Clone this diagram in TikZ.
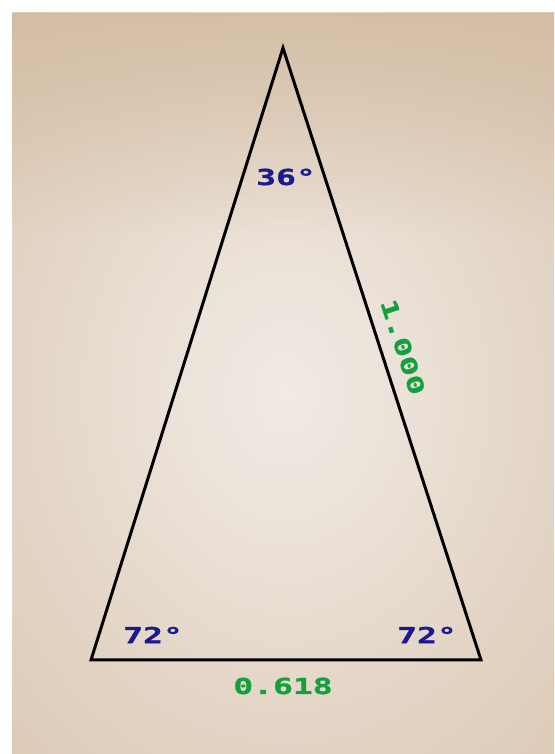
\documentclass[tikz,border=0pt]{standalone}
\usepackage{fontspec}
\usepackage{tikz}
\usetikzlibrary{fadings}
\newfontfamily\labelfont{DejaVu Sans Mono}[FakeStretch=1.5, FakeBold=1.2]
\definecolor{paperedge}{RGB}{220,202,182}
\definecolor{papermid}{RGB}{241,235,229}
\definecolor{papertop}{RGB}{210,186,160}
\definecolor{anglecol}{RGB}{26,26,142}
\definecolor{sidecol}{RGB}{20,160,62}
\tikzset{
  every node/.style={font=\labelfont\bfseries\fontsize{22}{26}\selectfont, inner sep=0pt},
  anglelabel/.style={text=anglecol},
  sidelabel/.style={text=sidecol},
  edge/.style={line width=3pt, black, line join=miter}
}

\begin{document}
\begin{tikzpicture}[x=1pt, y=1pt]

  % Page and paper.
  \useasboundingbox (0,0) rectangle (554,754);
  \fill[white] (0,0) rectangle (554,754);
  \begin{scope}
    \clip (12,0) rectangle (554,741);
    \shade[inner color=papermid, outer color=paperedge] (-120,-140) rectangle (690,860);
    \fill[papertop, path fading=south, opacity=0.8] (12,520) rectangle (554,741);
  \end{scope}

  % Triangle corners.
  \coordinate (apex)  at (283,706);
  \coordinate (left)  at (91,94);
  \coordinate (right) at (481,94);

  % Sides.
  \draw[edge] (apex) -- (left) -- (right) -- cycle;

  % Angle labels.
  \node[anglelabel] (topangle)   at (286,577) {36°};
  \node[anglelabel] (leftangle)  at (153,119) {72°};
  \node[anglelabel] (rightangle) at (427,119) {72°};

  % Side labels.
  \node[sidelabel] (base)   at (283,68)  {0.618};
  \node[sidelabel, rotate=-72] (slant) at (403,407) {1.000};

\end{tikzpicture}
\end{document}
